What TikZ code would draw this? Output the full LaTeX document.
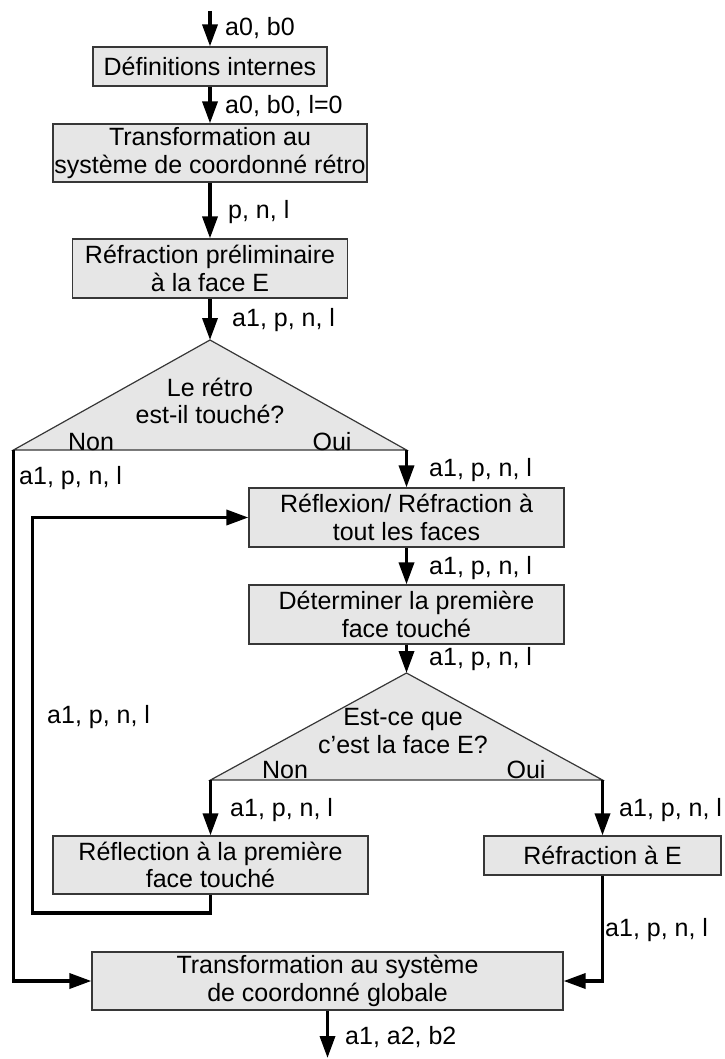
\documentclass[tikz,border=0pt]{standalone}
\usepackage{fontspec}
\setmainfont{Liberation Sans}
\usetikzlibrary{arrows.meta}
\definecolor{boxgray}{RGB}{230,230,230}
\definecolor{edgegray}{RGB}{55,55,55}
\begin{document}
\begin{tikzpicture}[x=1pt,y=-1pt,
  font=\fontsize{25}{27.5}\selectfont,
  box/.style={draw=edgegray, line width=1.2pt, fill=boxgray, inner sep=0pt, align=center},
  decision/.style={draw=edgegray, line width=1.2pt, fill=boxgray},
  flow/.style={line width=3.5pt, -{Triangle[length=22pt,width=15pt]}},
  lbl/.style={anchor=west, inner sep=0pt},
  txt/.style={inner sep=0pt, align=center},
]
\useasboundingbox (0,0) rectangle (724,1059);

% boxes
\node[box, minimum width=234pt, minimum height=39pt] (b1) at (210,66.5) {Définitions internes};
\node[box, minimum width=314pt, minimum height=58pt] (b2) at (210,153) {Transformation au\\système de coordonné rétro};
\node[box, minimum width=275pt, minimum height=59pt] (b3) at (210,268.5) {Réfraction préliminaire\\à la face E};
\node[box, minimum width=315pt, minimum height=59pt] (b4) at (406.5,517.5) {Réflexion/ Réfraction à\\tout les faces};
\node[box, minimum width=315pt, minimum height=59pt] (b5) at (406.5,614.5) {Déterminer la première\\face touché};
\node[box, minimum width=315pt, minimum height=58pt] (b6) at (210.5,865) {Réflection à la première\\face touché};
\node[box, minimum width=237pt, minimum height=39pt] (b7) at (602.5,855.5) {Réfraction à E};
\node[box, minimum width=471pt, minimum height=58pt] (b8) at (327.5,981) {Transformation au système\\de coordonné globale};

% decisions
\coordinate (t1a) at (210,340);
\coordinate (t1l) at (13.5,450);
\coordinate (t1r) at (406.5,450);
\draw[decision] (t1a) -- (t1l) -- (t1r) -- cycle;
\node[txt] (d1) at (210,401) {Le rétro\\est-il touché?};
\node[txt] (d1n) at (91,442) {Non};
\node[txt] (d1o) at (332,442) {Oui};

\coordinate (t2a) at (406.5,673);
\coordinate (t2l) at (210.5,780);
\coordinate (t2r) at (602.5,780);
\draw[decision] (t2a) -- (t2l) -- (t2r) -- cycle;
\node[txt] (d2) at (403,731) {Est-ce que\\c'est la face E?};
\node[txt] (d2n) at (285,770) {Non};
\node[txt] (d2o) at (526,770) {Oui};

% connectors
\coordinate (start) at (210,11);
\coordinate (end) at (327.5,1058);
\coordinate (loop) at (32.5,913);
\draw[flow] (start) -- (b1.north);
\draw[flow] (b1.south) -- (b2.north);
\draw[flow] (b2.south) -- (b3.north);
\draw[flow] (b3.south) -- (t1a);
\draw[flow] (t1r) -- (b4.north);
\draw[flow] (t1l) |- (b8.west);
\draw[flow] (b4.south) -- (b5.north);
\draw[flow] (b5.south) -- (t2a);
\draw[flow] (t2l) -- (b6.north);
\draw[flow] (t2r) -- (b7.north);
\draw[flow] (b6.south) |- (loop) |- (b4.west);
\draw[flow] (b7.south) |- (b8.east);
\draw[flow] (b8.south) -- (end);

% labels
\node[lbl] (l1) at (225,28) {a0, b0};
\node[lbl] (l2) at (225,106) {a0, b0, l=0};
\node[lbl] (l3) at (228,212) {p, n, l};
\node[lbl] (l4) at (232,320) {a1, p, n, l};
\node[lbl] (l5) at (429,470) {a1, p, n, l};
\node[lbl] (l6) at (19,478) {a1, p, n, l};
\node[lbl] (l7) at (429,568) {a1, p, n, l};
\node[lbl] (l8) at (429,659) {a1, p, n, l};
\node[lbl] (l9) at (47,717) {a1, p, n, l};
\node[lbl] (l10) at (230,810) {a1, p, n, l};
\node[lbl] (l11) at (619,810) {a1, p, n, l};
\node[lbl] (l12) at (605,930) {a1, p, n, l};
\node[lbl] (l13) at (345,1037) {a1, a2, b2};
\end{tikzpicture}
\end{document}
